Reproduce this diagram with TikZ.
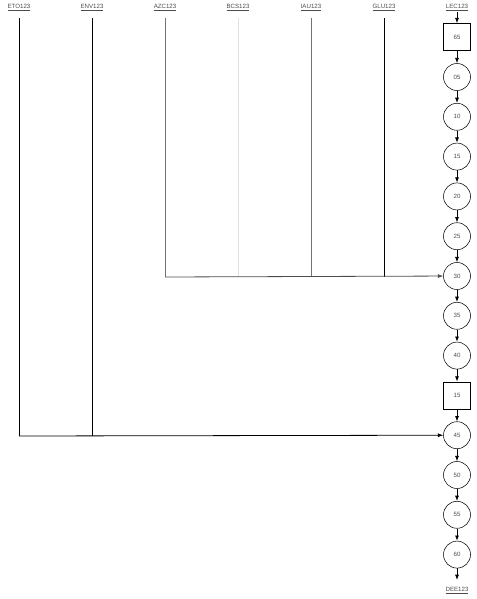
\documentclass[tikz,border=0pt]{standalone}
\usepackage{fontspec}
\setsansfont{Liberation Sans}
\usetikzlibrary{arrows.meta}
\tikzset{
  lbl/.style={font=\sffamily\fontsize{4.6}{5}\selectfont, text=black!70, inner sep=0pt},
  circ/.style={draw, circle, minimum size=27*0.75pt, inner sep=0pt, font=\sffamily\fontsize{4.6}{5}\selectfont, text=black!70},
  sq/.style={draw, rectangle, minimum size=27*0.75pt, inner sep=0pt, font=\sffamily\fontsize{4.6}{5}\selectfont, text=black!70},
  flow/.style={-{Latex[length=4pt,width=3pt]}, line width=0.6pt}
}
\begin{document}
\begin{tikzpicture}[x=0.75pt,y=-0.75pt]
				\useasboundingbox (0,0) rectangle (476,599);
				% sources
				\foreach \name/\x/\col/\y in {ETO/19/black/436, ENV/92/black/436, AZC/165/black!55/277, BCS/238/black!12/277, IAU/311/black!55/277, GLU/384/black/277}{
					\node[lbl] (\name) at(\x, 8){\underline{\name123}};
					\coordinate (top-\name) at(\x, 18);
					\coordinate (join-\name) at(\x, \y);
					\draw[\col, line width=0.6pt] (top-\name) -- (join-\name);
				}
				% main column
				\node[lbl] (LEC) at(457, 8){\underline{LEC123}};
				\node[sq] (b65) at(457, 37){65};
				\foreach \t/\s [count=\i from 0] in {05/circ,10/circ,15/circ,20/circ,25/circ,30/circ,35/circ,40/circ,15/sq,45/circ,50/circ,55/circ,60/circ}{
					\node[\s] (n\i) at(457, 77+39.8*\i){\t};
				}
				\node[lbl] (DEE) at(457, 591){\underline{DEE123}};
				\coordinate (end) at(457, 580);
				\draw[flow] (LEC) -- (b65);
				\draw[flow] (b65) -- (n0);
				\foreach \i [count=\j from 1] in {0,...,11}{
					\draw[flow] (n\i) -- (n\j);
				}
				\draw[flow] (n12) -- (end);
				% joins
				\draw[flow, black!70] (join-AZC) -- (n5);
				\draw[flow] (join-ETO) -- (n9);
\end{tikzpicture}
\end{document}
